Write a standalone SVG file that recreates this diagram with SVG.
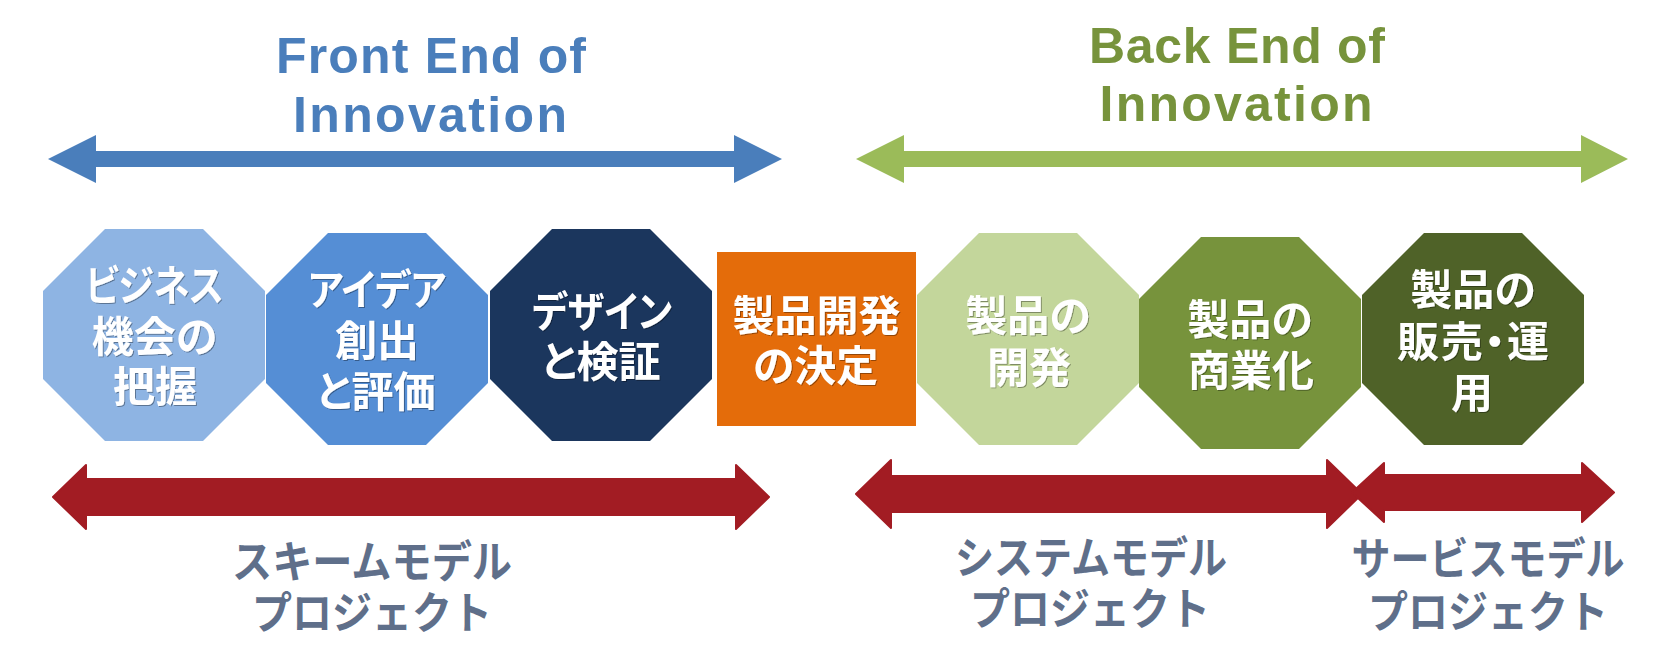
<svg xmlns="http://www.w3.org/2000/svg" xmlns:xlink="http://www.w3.org/1999/xlink" width="1678" height="671" viewBox="0 0 1678 671">
<style>
.title{font-family:"Liberation Sans",Arial,sans-serif;font-weight:bold;font-size:50px;text-anchor:middle}
.node{font-family:"Noto Sans CJK JP",sans-serif;font-weight:bold;font-size:42px;fill:#ffffff;text-anchor:middle;font-feature-settings:"palt";filter:url(#sh)}
.lbl{font-family:"Noto Sans CJK JP",sans-serif;font-weight:bold;font-size:44px;fill:#5F6F8A;text-anchor:middle}
.red{fill:#A21C23;stroke:#A21C23;stroke-width:2;stroke-linejoin:round}
</style>
<defs>
<polygon id="oct" points="62,0 160,0 222,62 222,150 160,212 62,212 0,150 0,62"/>
<filter id="sh" x="-10%" y="-10%" width="120%" height="130%">
<feDropShadow dx="1" dy="1" stdDeviation="0.6" flood-color="#000" flood-opacity="0.35"/>
</filter>
</defs>
<rect width="1678" height="671" fill="#ffffff"/>

<g id="front-title">
<text class="title" fill="#4A7EBB" x="431" y="73" textLength="310" lengthAdjust="spacing">Front End of</text>
<text class="title" fill="#4A7EBB" x="430" y="132" textLength="274" lengthAdjust="spacing">Innovation</text>
</g>
<g id="back-title">
<text class="title" fill="#77933C" x="1237" y="63" textLength="296" lengthAdjust="spacing">Back End of</text>
<text class="title" fill="#77933C" x="1236" y="121" textLength="273" lengthAdjust="spacing">Innovation</text>
</g>

<g id="connectors">
<polygon fill="#4A7EBB" points="48,159 96,135 96,151 734,151 734,135 782,159 734,183 734,167 96,167 96,183"/>
<polygon fill="#9BBB59" points="856,159 904,135 904,151 1581,151 1581,135 1628,159 1581,183 1581,167 904,167 904,183"/>
<polygon class="red" points="53,497 86,465 86,479 736,479 736,465 769,497 736,529 736,515 86,515 86,529"/>
<polygon class="red" points="856,494 891,460 891,476 1327,476 1327,460 1362,494 1327,528 1327,512 891,512 891,528"/>
<polygon class="red" points="1352,492.5 1384,463 1384,475 1582,475 1582,463 1614,492.5 1582,522 1582,510 1384,510 1384,522"/>
</g>

<g id="node-business">
<use xlink:href="#oct" href="#oct" x="43" y="229" fill="#8EB4E3"/>
<text class="node" x="154.5" y="301" textLength="138" lengthAdjust="spacingAndGlyphs">ビジネス</text>
<text class="node" x="154.5" y="352">機会の</text>
<text class="node" x="155" y="402">把握</text>
</g>
<g id="node-idea">
<use xlink:href="#oct" href="#oct" x="266" y="233" fill="#558ED5"/>
<text class="node" x="377" y="305" textLength="138" lengthAdjust="spacingAndGlyphs">アイデア</text>
<text class="node" x="377" y="356">創出</text>
<text class="node" x="376" y="407">と評価</text>
</g>
<g id="node-design">
<use xlink:href="#oct" href="#oct" x="490" y="229" fill="#1B365D"/>
<text class="node" x="602" y="327" textLength="140" lengthAdjust="spacingAndGlyphs">デザイン</text>
<text class="node" x="601" y="377">と検証</text>
</g>
<g id="node-decision">
<rect x="717" y="252" width="199" height="174" fill="#E46C0A"/>
<text class="node" x="816.5" y="330.5">製品開発</text>
<text class="node" x="815.5" y="381">の決定</text>
</g>
<g id="node-develop">
<use xlink:href="#oct" href="#oct" x="917" y="233" fill="#C3D69B"/>
<text class="node" x="1028" y="331">製品の</text>
<text class="node" x="1029" y="383">開発</text>
</g>
<g id="node-commercial">
<use xlink:href="#oct" href="#oct" x="1139" y="237" fill="#77933C"/>
<text class="node" x="1250" y="334.5">製品の</text>
<text class="node" x="1251" y="386">商業化</text>
</g>
<g id="node-sales">
<use xlink:href="#oct" href="#oct" x="1362" y="233" fill="#4F6228"/>
<text class="node" x="1473" y="304.5">製品の</text>
<text class="node" x="1473" y="356.5" textLength="152" lengthAdjust="spacing">販売・運</text>
<text class="node" x="1472" y="408">用</text>
</g>

<g id="label-scheme">
<text class="lbl" x="372" y="578" textLength="280" lengthAdjust="spacingAndGlyphs">スキームモデル</text>
<text class="lbl" x="372" y="629" textLength="240" lengthAdjust="spacingAndGlyphs">プロジェクト</text>
</g>
<g id="label-system">
<text class="lbl" x="1091" y="574" textLength="272" lengthAdjust="spacingAndGlyphs">システムモデル</text>
<text class="lbl" x="1090" y="625" textLength="240" lengthAdjust="spacingAndGlyphs">プロジェクト</text>
</g>
<g id="label-service">
<text class="lbl" x="1488" y="575" textLength="273" lengthAdjust="spacingAndGlyphs">サービスモデル</text>
<text class="lbl" x="1488" y="628" textLength="240" lengthAdjust="spacingAndGlyphs">プロジェクト</text>
</g>
</svg>
